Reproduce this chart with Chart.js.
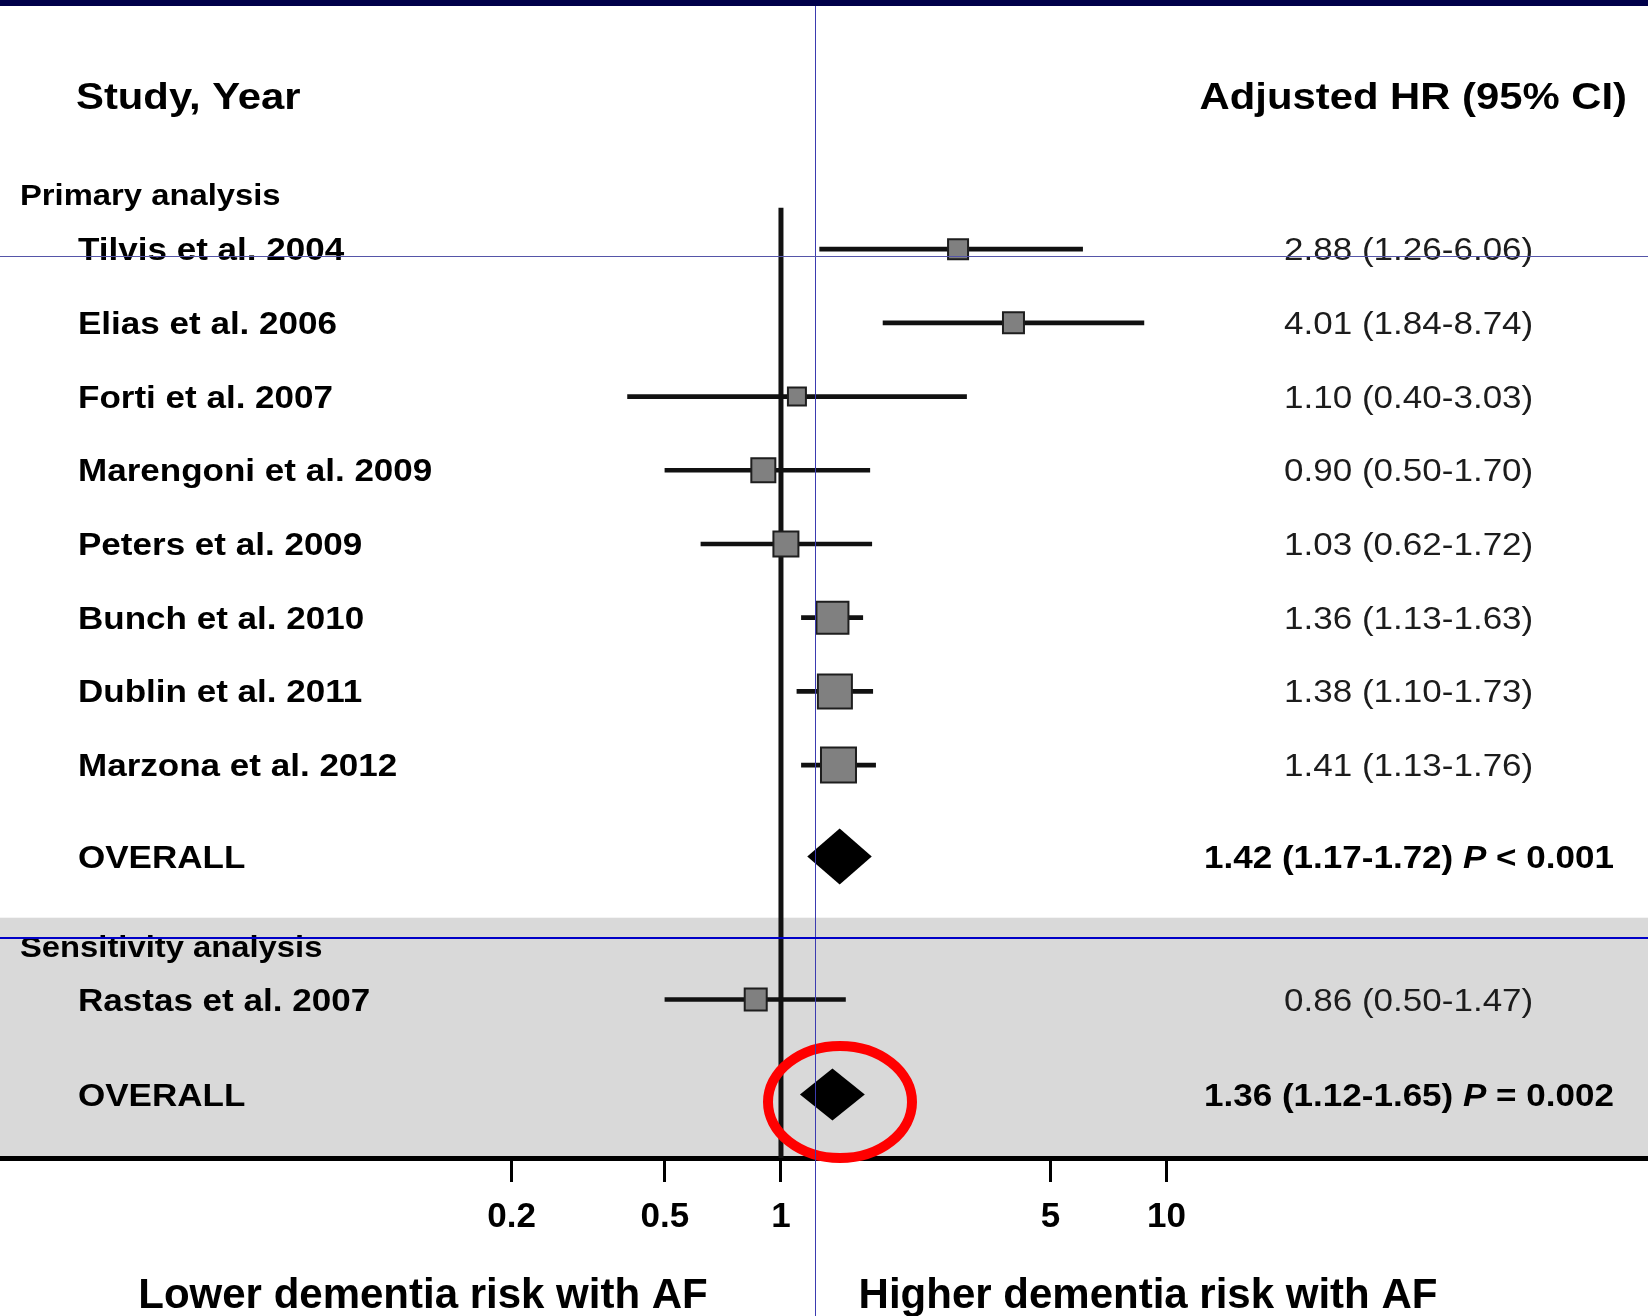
<!DOCTYPE html>
<html>
<head>
<meta charset="utf-8">
<title>AF and dementia risk - forest plot</title>
<script src="https://cdn.jsdelivr.net/npm/chart.js@4.4.1/dist/chart.umd.min.js"></script>
<style>
    html, body { margin: 0; padding: 0; background: #fff; overflow: hidden; }
    canvas { display: block; }
</style>
</head>
<body>
<canvas id="forest" width="1648" height="1316"></canvas>
<script>
// Primary analysis: adjusted hazard ratios with 95% CI
const studies = ['Tilvis et al. 2004', 'Elias et al. 2006', 'Forti et al. 2007', 'Marengoni et al. 2009',
    'Peters et al. 2009', 'Bunch et al. 2010', 'Dublin et al. 2011', 'Marzona et al. 2012'];
const hr = [2.88, 4.01, 1.10, 0.90, 1.03, 1.36, 1.38, 1.41];
const lower = [1.26, 1.84, 0.40, 0.50, 0.62, 1.13, 1.10, 1.13];
const upper = [6.06, 8.74, 3.03, 1.70, 1.72, 1.63, 1.73, 1.76];

// Sensitivity analysis
const sensStudies = ['Rastas et al. 2007'];
const sensHr = [0.86];
const sensLower = [0.50];
const sensUpper = [1.47];

// Pooled estimates (primary, sensitivity)
const overallHr = [1.42, 1.36];
const overallLower = [1.17, 1.12];
const overallUpper = [1.72, 1.65];
const overallP = ['< 0.001', '= 0.002'];

// x axis
const tickValues = [0.2, 0.5, 1, 5, 10];
const tickLabels = ['0.2', '0.5', '1', '5', '10'];

// Layout: vertical row slots (1 slot = one study row)
const studySlots = [0, 1, 2, 3, 4, 5, 6, 7];
const sensSlots = [10.18];
const overallSlots = [8.24, 11.47];
const headerSlot = -2.08;
const primarySlot = -0.74;
const sensHeaderSlot = 9.47;
const bandTopSlot = 9.07;
const refTopSlot = -0.56;

// Style: square sides (px) and diamond half heights
const studySides = [20, 21, 18, 24, 25, 32, 34, 35];
const sensSides = [22];
const diamondHalfH = [28, 26];

const FONT = '"Liberation Sans", Arial, Helvetica, sans-serif';
const STRETCH = 1.13;

function drawText(ctx, str, x, baseline, font, sx, align) {
    ctx.save();
    ctx.font = font;
    const w = ctx.measureText(str).width * sx;
    let left = x;
    if (align === 'right') left = x - w;
    else if (align === 'center') left = x - w / 2;
    ctx.translate(left, baseline);
    ctx.scale(sx, 1);
    ctx.textAlign = 'left';
    ctx.textBaseline = 'alphabetic';
    ctx.fillText(str, 0, 0);
    ctx.restore();
    return w;
}

const forestDecor = {
    id: 'forestDecor',
    beforeDraw(chart) {
        const { ctx, chartArea, scales: { y } } = chart;
        ctx.save();
        ctx.fillStyle = '#fff';
        ctx.fillRect(0, 0, chart.width, chart.height);
        // grey band behind the sensitivity analysis
        const bandTop = y.getPixelForValue(bandTopSlot);
        ctx.fillStyle = '#d9d9d9';
        ctx.fillRect(0, bandTop, chart.width, chartArea.bottom - bandTop);
        ctx.restore();
    },
    beforeDatasetsDraw(chart) {
        // line of no effect at HR = 1
        const { ctx, chartArea, scales: { x, y } } = chart;
        const px = x.getPixelForValue(1);
        ctx.save();
        ctx.strokeStyle = '#111';
        ctx.lineWidth = 5;
        ctx.beginPath();
        ctx.moveTo(px, y.getPixelForValue(refTopSlot));
        ctx.lineTo(px, chartArea.bottom);
        ctx.stroke();
        ctx.restore();
    },
    afterDatasetsDraw(chart) {
        const { ctx, scales: { x, y } } = chart;

        // pooled estimate diamonds
        ctx.save();
        ctx.fillStyle = '#000';
        overallHr.forEach((v, i) => {
            const cy = y.getPixelForValue(overallSlots[i]);
            const h = diamondHalfH[i];
            ctx.beginPath();
            ctx.moveTo(x.getPixelForValue(overallLower[i]), cy);
            ctx.lineTo(x.getPixelForValue(v), cy - h);
            ctx.lineTo(x.getPixelForValue(overallUpper[i]), cy);
            ctx.lineTo(x.getPixelForValue(v), cy + h);
            ctx.closePath();
            ctx.fill();
        });
        ctx.restore();

        const row = s => y.getPixelForValue(s);
        const bold = size => `bold ${size}px ${FONT}`;

        ctx.save();
        ctx.fillStyle = '#000';
        drawText(ctx, 'Study, Year', 76, row(headerSlot) + 13, bold(37), STRETCH, 'left');
        drawText(ctx, 'Adjusted HR (95% CI)', 1627, row(headerSlot) + 13, bold(37), STRETCH, 'right');
        drawText(ctx, 'Primary analysis', 20, row(primarySlot) + 10, bold(29), STRETCH, 'left');
        drawText(ctx, 'Sensitivity analysis', 20, row(sensHeaderSlot) + 10, bold(29), STRETCH, 'left');

        const studyRow = (name, v, lo, hi, slot) => {
            const base = row(slot) + 11;
            ctx.fillStyle = '#000';
            drawText(ctx, name, 78, base, bold(31), STRETCH, 'left');
            ctx.fillStyle = '#1c1c1c';
            drawText(ctx, `${v.toFixed(2)} (${lo.toFixed(2)}-${hi.toFixed(2)})`, 1284, base,
                `31px ${FONT}`, STRETCH, 'left');
        };
        studies.forEach((s, i) => studyRow(s, hr[i], lower[i], upper[i], studySlots[i]));
        sensStudies.forEach((s, i) => studyRow(s, sensHr[i], sensLower[i], sensUpper[i], sensSlots[i]));

        overallHr.forEach((v, i) => {
            const base = row(overallSlots[i]) + 11;
            ctx.fillStyle = '#000';
            drawText(ctx, 'OVERALL', 78, base, bold(31), STRETCH, 'left');
            let px = 1204;
            px += drawText(ctx, `${v.toFixed(2)} (${overallLower[i].toFixed(2)}-${overallUpper[i].toFixed(2)}) `,
                px, base, bold(31), STRETCH, 'left');
            px += drawText(ctx, 'P', px, base, `italic bold 31px ${FONT}`, STRETCH, 'left');
            drawText(ctx, ' ' + overallP[i], px, base, bold(31), STRETCH, 'left');
        });

        drawText(ctx, 'Lower dementia risk with AF', 423, 1308, bold(42), 1.0, 'center');
        drawText(ctx, 'Higher dementia risk with AF', 1148, 1308, bold(42), 1.0, 'center');
        ctx.restore();
    },
    afterDraw(chart) {
        const { ctx } = chart;
        ctx.save();
        // red annotation ring around the sensitivity estimate
        ctx.strokeStyle = '#ff0000';
        ctx.lineWidth = 10;
        ctx.beginPath();
        ctx.ellipse(840, 1102, 72, 56, 0, 0, Math.PI * 2);
        ctx.stroke();

        // screen guides
        ctx.fillStyle = '#3b3bb0';
        ctx.fillRect(815, 0, 1, chart.height);
        ctx.fillStyle = '#5555a8';
        ctx.fillRect(0, 256, chart.width, 1);
        ctx.fillStyle = '#0000c8';
        ctx.fillRect(0, 937, chart.width, 2);

        // window title bar
        ctx.fillStyle = '#00004a';
        ctx.fillRect(0, 0, chart.width, 6);
        ctx.restore();
    }
};

const squares = studies.map((s, i) => ({ x: hr[i], y: studySlots[i] }))
    .concat(sensStudies.map((s, i) => ({ x: sensHr[i], y: sensSlots[i] })));
const squareRadius = studySides.concat(sensSides).map(side => side / Math.SQRT2);
const whiskers = studies.map((s, i) => ({ x: [lower[i], upper[i]], y: studySlots[i] }))
    .concat(sensStudies.map((s, i) => ({ x: [sensLower[i], sensUpper[i]], y: sensSlots[i] })));

new Chart(document.getElementById('forest'), {
    type: 'scatter',
    data: {
        datasets: [
            {
                type: 'bar',
                label: '95% CI',
                indexAxis: 'y',
                data: whiskers,
                backgroundColor: '#111',
                borderWidth: 0,
                barThickness: 4,
                order: 2
            },
            {
                label: 'HR',
                data: squares,
                pointStyle: 'rect',
                pointRadius: squareRadius,
                pointHoverRadius: squareRadius,
                backgroundColor: '#808080',
                borderColor: '#1e1e1e',
                borderWidth: 2,
                order: 1
            }
        ]
    },
    options: {
        responsive: false,
        devicePixelRatio: 1,
        animation: false,
        events: [],
        layout: { padding: 0, autoPadding: false },
        plugins: {
            legend: { display: false },
            tooltip: { enabled: false }
        },
        scales: {
            x: {
                type: 'logarithmic',
                min: 0.00942,
                max: 177.5,
                offset: false,
                beginAtZero: false,
                afterBuildTicks: scale => {
                    scale.ticks = tickValues.map(v => ({ value: v }));
                },
                afterFit: scale => {
                    scale.height = 158;
                },
                grid: {
                    offset: false,
                    drawOnChartArea: false,
                    drawTicks: true,
                    tickLength: 24,
                    tickWidth: 3,
                    tickColor: '#000'
                },
                border: { display: true, color: '#000', width: 5 },
                ticks: {
                    autoSkip: false,
                    maxRotation: 0,
                    padding: 14,
                    color: '#000',
                    font: { family: FONT, size: 35, weight: 'bold' },
                    callback: (v, i) => tickLabels[i]
                }
            },
            y: {
                type: 'linear',
                reverse: true,
                offset: false,
                grid: { offset: false },
                min: -3.38,
                max: 12.33,
                display: false
            }
        }
    },
    plugins: [forestDecor]
});
</script>
</body>
</html>
